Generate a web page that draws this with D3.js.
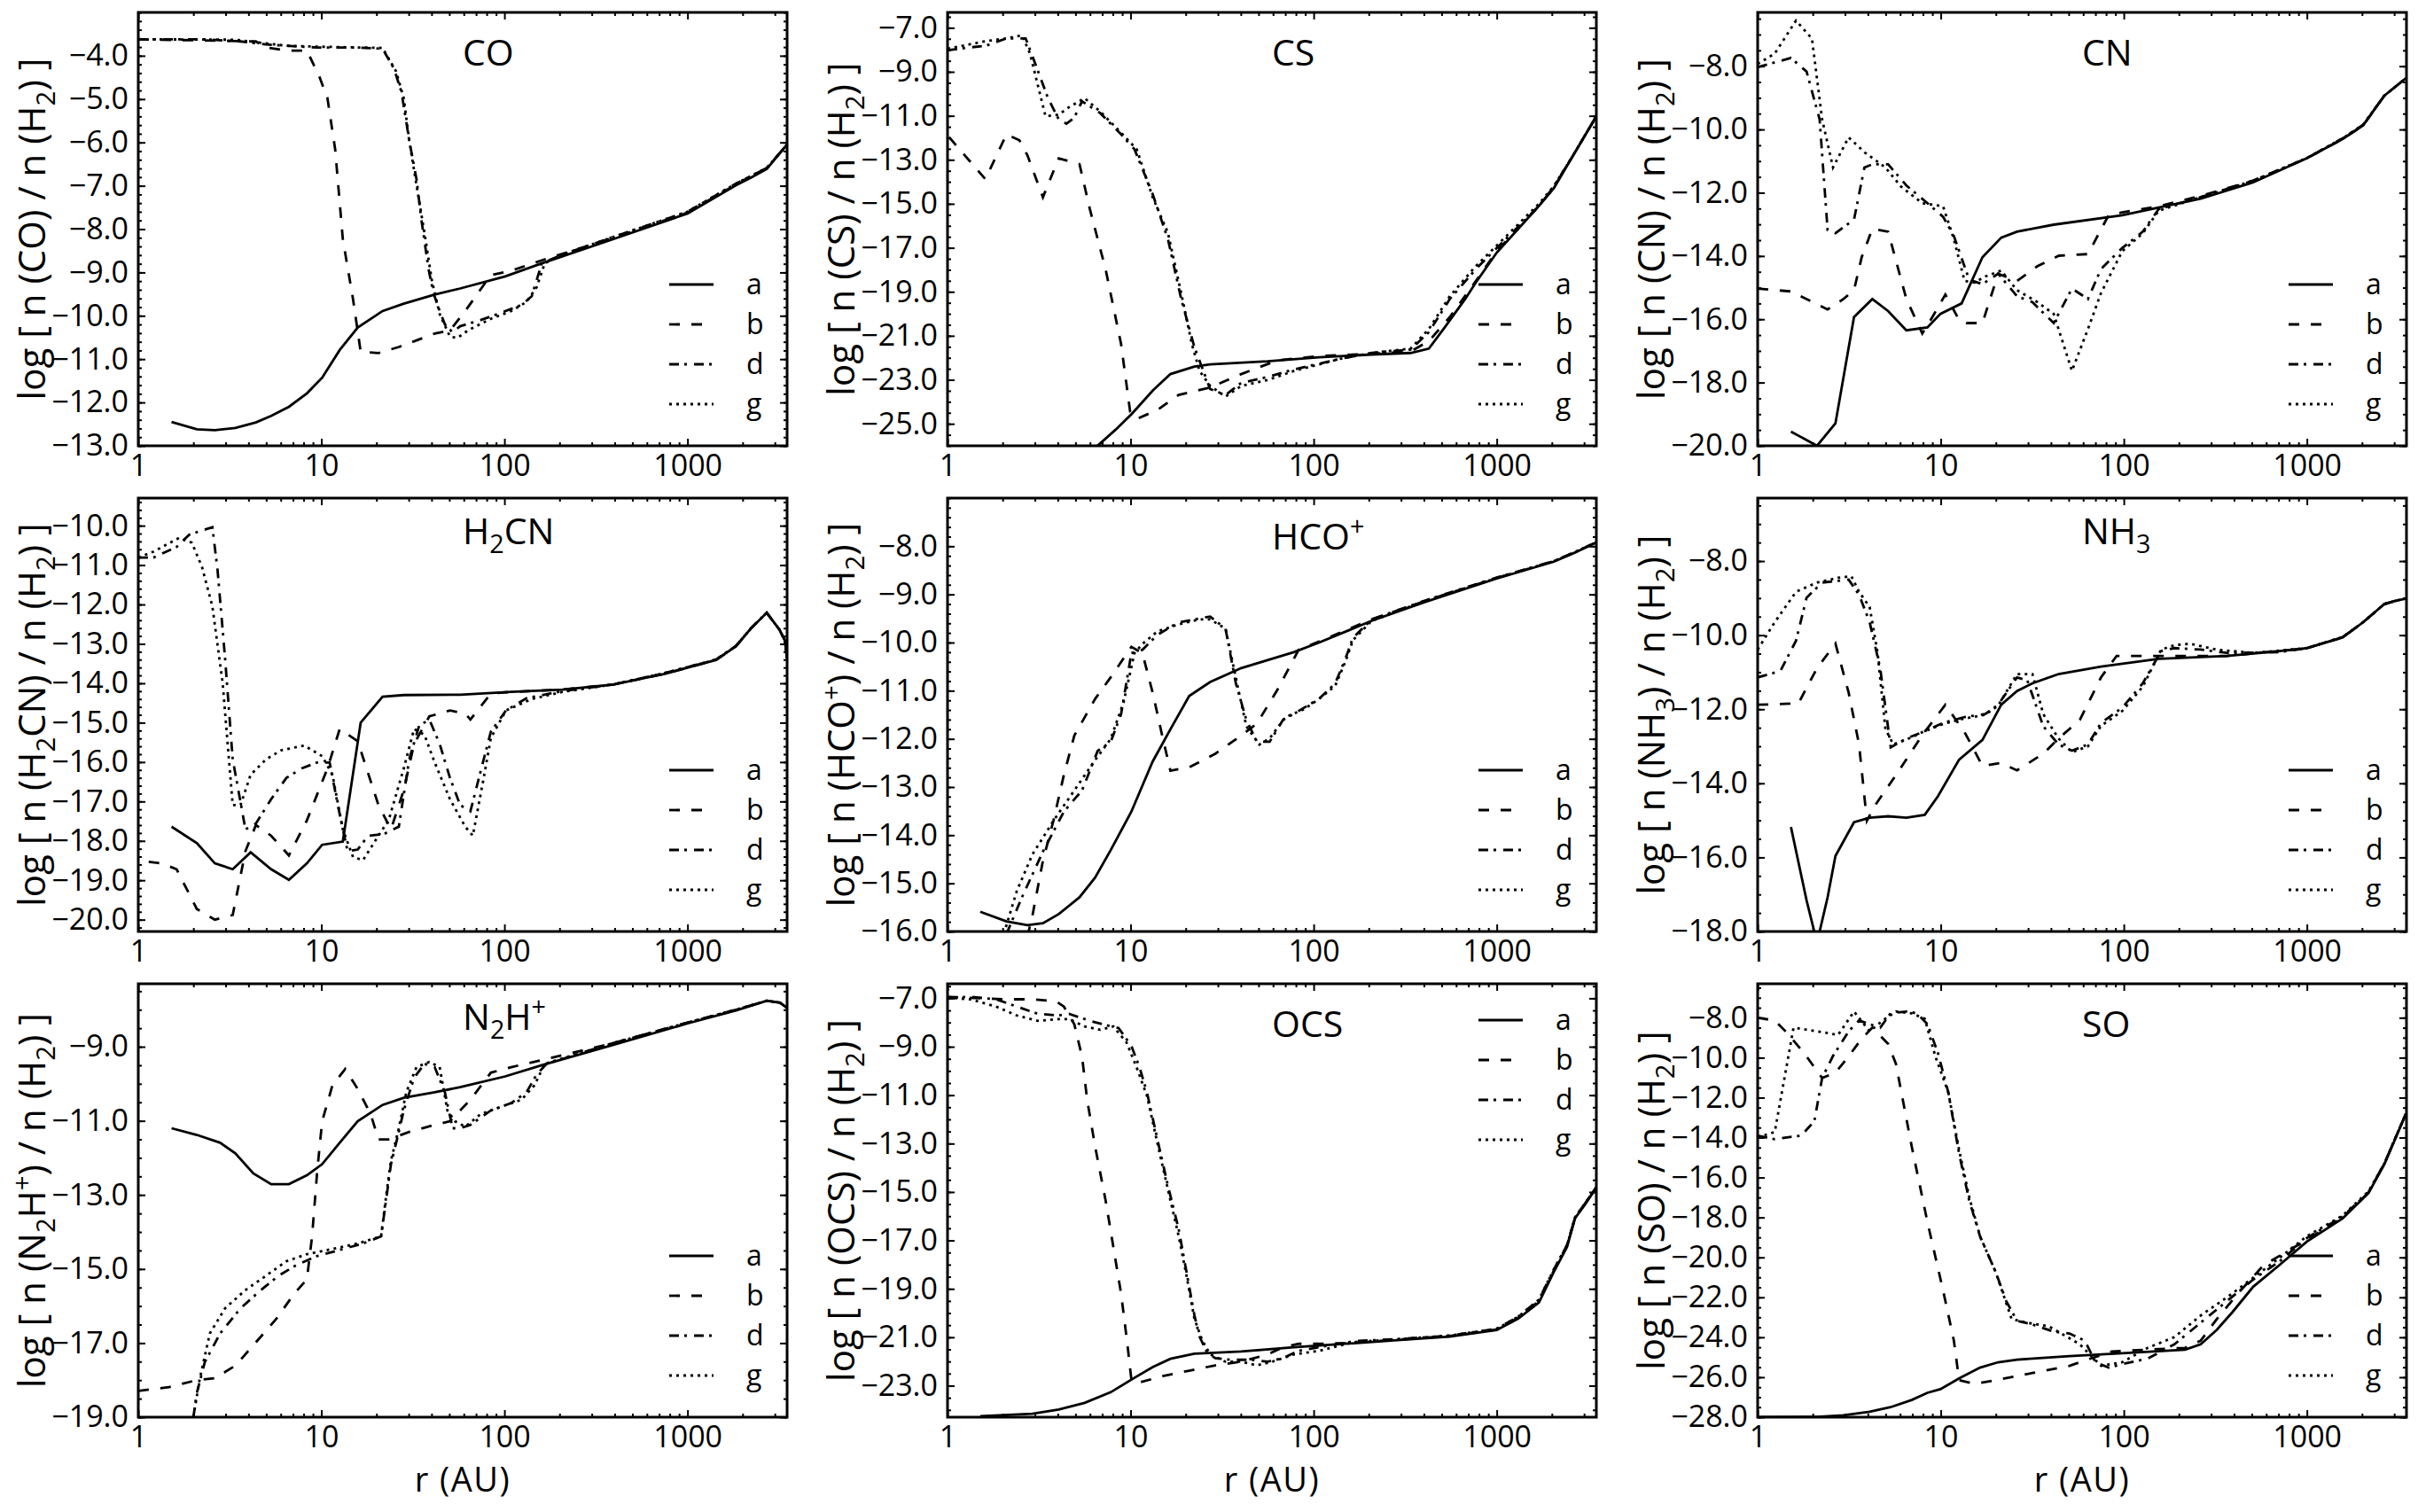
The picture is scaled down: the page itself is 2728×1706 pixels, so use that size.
<!DOCTYPE html>
<html>
<head>
<meta charset="utf-8">
<script src="https://cdn.jsdelivr.net/npm/d3@7"></script>
<style>
body { margin: 0; background: #fff; }
svg { font-family: "Open Sans", "Noto Sans", sans-serif; }
text { white-space: pre; }
</style>
</head>
<body>
<svg id="chart" width="2728" height="1706"></svg>
<script>
// radius (AU) vs log abundance
var coA = [[1.52,-12.45],[2.09,-12.62],[2.62,-12.64],[3.39,-12.59],[4.39,-12.46],[5.32,-12.31],[6.65,-12.10],[8.34,-11.79],[10.1,-11.43],[12.6,-10.79],[15.8,-10.27],[21.6,-9.89],[28.2,-9.72],[41.6,-9.51],[57.3,-9.37],[101,-9.09],[160,-8.79],[394,-8.23],[1000,-7.64],[1840,-6.99],[2230,-6.81],[2710,-6.61],[3500,-6.05]];
var coB = [[1,-3.62],[4.39,-3.67],[4.99,-3.81],[6.45,-3.88],[8.34,-3.88],[9.79,-4.50],[10.8,-4.98],[11.9,-6.16],[13.1,-8.23],[14.9,-9.62],[16.4,-10.83],[20.5,-10.86],[26.5,-10.72],[41.6,-10.41],[50.4,-10.34],[61.1,-9.89],[84.3,-9.06],[109,-8.96],[160,-8.72],[394,-8.20],[1000,-7.62],[1840,-6.97],[2710,-6.59],[3500,-6.05]];
var coD = [[1,-3.62],[2.31,-3.62],[3.62,-3.67],[4.99,-3.74],[6.45,-3.77],[9.49,-3.81],[15.8,-3.81],[21.6,-3.84],[24.9,-4.29],[27.4,-4.84],[30.2,-5.95],[33.1,-6.85],[35.3,-7.82],[38.5,-8.92],[41.0,-9.48],[43.7,-9.82],[47.3,-10.20],[52.1,-10.38],[57.3,-10.24],[74.1,-10.10],[95.9,-9.93],[124,-9.75],[141,-9.55],[160,-8.79],[207,-8.59],[394,-8.18],[1000,-7.60],[1840,-6.95],[2710,-6.59],[3500,-6.05]];
var coG = [[1,-3.62],[3.39,-3.63],[6.45,-3.77],[9.49,-3.79],[21.6,-3.82],[25.6,-4.36],[28.2,-4.98],[30.2,-5.95],[33.1,-6.99],[36.6,-8.09],[40.2,-9.20],[44.3,-9.96],[50.4,-10.48],[55.5,-10.51],[63.1,-10.34],[84.3,-10.07],[109,-9.89],[132,-9.68],[150,-9.34],[166,-8.79],[207,-8.59],[394,-8.18],[1000,-7.60],[1840,-6.95],[2710,-6.59],[3500,-6.05]];

var csA = [[5.6,-26.96],[6.6,-26.0],[8.3,-25.26],[10.1,-24.57],[13.2,-23.49],[16.5,-22.74],[22.3,-22.40],[27.2,-22.30],[56,-22.16],[107,-21.98],[207,-21.85],[339,-21.78],[426,-21.58],[520,-20.62],[672,-19.33],[769,-18.58],[1000,-17.22],[1700,-15.1],[2050,-14.29],[2680,-12.65],[3500,-11.02]];
var csB = [[1.02,-11.97],[1.24,-12.79],[1.61,-13.88],[2.10,-11.84],[2.47,-12.11],[2.73,-12.79],[3.32,-14.70],[4.05,-12.93],[5.26,-13.20],[5.99,-15.24],[7.30,-17.97],[8.87,-21.37],[9.94,-24.44],[10.8,-24.78],[14.0,-24.37],[18.3,-23.69],[27.2,-23.35],[40.2,-22.74],[63.3,-22.12],[107,-21.92],[207,-21.82],[339,-21.71],[426,-21.24],[554,-20.15],[769,-18.51],[1000,-17.15],[1700,-15.1],[2050,-14.25],[2680,-12.65],[3500,-11.02]];
var csD = [[1,-8.02],[1.33,-7.89],[1.61,-7.82],[2.10,-7.48],[2.67,-7.48],[2.91,-8.29],[3.54,-10.20],[4.05,-11.16],[4.46,-11.36],[4.92,-11.09],[5.43,-10.34],[6.83,-10.88],[8.87,-11.84],[10.5,-12.52],[13.2,-14.56],[16.0,-16.61],[18.9,-19.33],[22.3,-21.51],[27.2,-23.42],[33,-23.69],[40.2,-23.14],[56,-22.87],[77.8,-22.53],[139,-22.05],[207,-21.78],[339,-21.62],[426,-20.83],[554,-19.33],[769,-17.97],[1000,-17.01],[1700,-15.1],[2050,-14.22],[2680,-12.65],[3500,-11.02]];
var csG = [[1,-7.95],[1.61,-7.61],[2.10,-7.48],[2.55,-7.34],[2.82,-8.16],[3.43,-11.02],[4.05,-10.95],[4.61,-10.61],[5.61,-10.20],[6.83,-10.81],[8.87,-11.77],[10.8,-12.52],[13.2,-14.70],[16.0,-16.33],[18.9,-19.06],[21.6,-21.37],[23.8,-22.60],[27.2,-23.28],[33,-23.76],[40.2,-23.28],[56,-23.01],[77.8,-22.60],[139,-22.05],[207,-21.78],[339,-21.58],[426,-20.69],[554,-19.20],[769,-17.83],[1000,-16.9],[1700,-15.0],[2050,-14.2],[2680,-12.65],[3500,-11.02]];

var cnA = [[1.52,-19.55],[2.11,-20.0],[2.66,-19.29],[3.36,-15.93],[4.23,-15.36],[5.16,-15.74],[6.49,-16.35],[8.46,-16.26],[9.96,-15.83],[13.0,-15.50],[16.9,-14.04],[21.4,-13.42],[26.1,-13.23],[41.4,-13.01],[98,-12.71],[263,-12.19],[509,-11.67],[1000,-10.91],[1570,-10.30],[2030,-9.87],[2650,-8.93],[3060,-8.64],[3470,-8.38]];
var cnB = [[1,-15.03],[1.52,-15.12],[2.41,-15.69],[2.94,-15.36],[3.36,-15.08],[3.70,-14.04],[4.23,-13.14],[5.16,-13.23],[6.49,-15.36],[7.93,-16.45],[9.0,-15.93],[10.6,-15.22],[12.6,-16.02],[13.8,-16.12],[16.9,-16.12],[20.6,-14.56],[26.1,-14.79],[33.8,-14.32],[44.2,-13.99],[63.7,-13.94],[82.6,-12.71],[98,-12.62],[155,-12.43],[263,-12.10],[509,-11.62],[1000,-10.91],[1570,-10.30],[2030,-9.87],[2650,-8.93],[3060,-8.64],[3470,-8.38]];
var cnD = [[1,-8.03],[1.52,-7.74],[1.85,-8.17],[2.18,-9.68],[2.41,-13.18],[2.66,-13.28],[3.36,-12.85],[3.83,-11.20],[4.23,-11.10],[5.16,-11.10],[6.49,-11.77],[8.46,-12.33],[10.3,-12.76],[11.8,-13.37],[14.3,-14.75],[16.9,-14.89],[20.6,-14.56],[26.1,-15.27],[31.7,-15.46],[41.4,-16.12],[52.1,-15.03],[63.7,-15.36],[75.1,-14.41],[98,-13.75],[127,-13.23],[155,-12.52],[263,-12.14],[509,-11.62],[1000,-10.91],[1570,-10.28],[2030,-9.85],[2650,-8.93],[3060,-8.64],[3470,-8.38]];
var cnG = [[1,-7.93],[1.24,-7.60],[1.62,-6.56],[1.98,-7.13],[2.25,-9.68],[2.58,-11.20],[3.14,-10.25],[3.83,-10.72],[4.98,-11.20],[6.08,-11.81],[7.93,-12.33],[10.3,-12.43],[11.8,-13.47],[13.5,-14.79],[15.3,-14.84],[17.5,-14.65],[21.4,-14.46],[26.1,-15.08],[33.8,-15.46],[41.4,-15.83],[52.1,-17.63],[63.7,-16.31],[75.1,-15.17],[98,-13.85],[127,-13.28],[155,-12.57],[263,-12.14],[509,-11.62],[1000,-10.90],[1570,-10.28],[2030,-9.85],[2650,-8.93],[3060,-8.64],[3470,-8.38]];

var hcnA = [[1.52,-17.64],[2.09,-18.06],[2.62,-18.57],[3.28,-18.72],[4.11,-18.29],[5.32,-18.72],[6.65,-18.99],[8.34,-18.57],[10.1,-18.10],[13.1,-18.02],[16.4,-15.0],[21.6,-14.34],[28.2,-14.30],[57.3,-14.29],[109,-14.22],[207,-14.16],[394,-14.03],[751,-13.76],[1430,-13.41],[1840,-13.06],[2230,-12.60],[2710,-12.21],[3180,-12.64],[3400,-12.91],[3500,-13.37]];
var hcnB = [[1.14,-18.53],[1.34,-18.57],[1.62,-18.72],[2.09,-19.73],[2.62,-20.0],[3.28,-19.88],[3.85,-18.26],[4.39,-17.60],[5.32,-17.87],[6.65,-18.37],[8.34,-17.48],[10.8,-16.16],[12.6,-15.16],[15.8,-15.47],[20.5,-17.09],[24.0,-17.71],[28.2,-16.71],[32.1,-15.54],[38.9,-14.84],[50.4,-14.69],[61.1,-14.77],[65.2,-14.92],[84.3,-14.26],[109,-14.22],[207,-14.16],[394,-14.03],[751,-13.76],[1430,-13.41],[1840,-13.06],[2230,-12.60],[2710,-12.21],[3180,-12.64],[3400,-12.91],[3500,-13.37]];
var hcnD = [[1,-10.81],[1.21,-10.81],[1.62,-10.54],[1.90,-10.23],[2.23,-10.12],[2.54,-10.04],[2.71,-11.12],[2.98,-13.37],[3.28,-15.93],[3.62,-17.02],[3.85,-17.71],[4.39,-17.56],[5.32,-16.94],[6.45,-16.40],[7.81,-16.16],[9.49,-16.01],[11.1,-16.01],[12.3,-17.09],[13.9,-18.26],[15.8,-18.22],[18.0,-17.87],[21.9,-17.83],[26.5,-17.64],[30.2,-15.93],[34.2,-15.08],[38.9,-14.92],[44.3,-15.54],[50.4,-16.40],[57.3,-17.09],[65.2,-17.25],[74.1,-16.24],[84.3,-15.23],[102,-14.69],[132,-14.38],[207,-14.20],[394,-14.03],[751,-13.74],[1430,-13.40],[1840,-13.05],[2230,-12.60],[2710,-12.21],[3180,-12.64],[3400,-12.91],[3500,-13.37]];
var hcnG = [[1,-10.81],[1.21,-10.66],[1.67,-10.31],[1.96,-10.43],[2.23,-11.05],[2.54,-12.05],[2.89,-13.99],[3.28,-17.09],[3.62,-17.09],[4.11,-16.32],[4.99,-15.93],[6.04,-15.70],[8.06,-15.58],[10.1,-15.85],[11.5,-16.32],[13.1,-17.71],[14.9,-18.41],[16.9,-18.49],[20.5,-17.87],[23.3,-17.48],[28.2,-16.16],[32.1,-15.16],[36.6,-15.31],[41.6,-16.01],[50.4,-16.94],[61.1,-17.64],[67.2,-17.87],[76.6,-16.47],[84.3,-15.39],[102,-14.69],[141,-14.40],[207,-14.22],[394,-14.03],[751,-13.74],[1430,-13.40],[1840,-13.05],[2230,-12.60],[2710,-12.21],[3180,-12.64],[3400,-12.91],[3500,-13.37]];

var hcoA = [[1.51,-15.59],[2.10,-15.79],[2.73,-15.87],[3.32,-15.83],[4.05,-15.64],[5.26,-15.29],[6.40,-14.88],[7.79,-14.31],[10.1,-13.51],[13.2,-12.47],[16.5,-11.80],[20.9,-11.11],[27.2,-10.82],[40.2,-10.53],[77.8,-10.20],[107,-10.0],[207,-9.55],[397,-9.17],[1000,-8.67],[2050,-8.32],[2680,-8.13],[3500,-7.92]];
var hcoB = [[2.73,-16.11],[2.91,-15.67],[3.32,-14.53],[3.79,-13.70],[4.32,-12.75],[4.93,-11.93],[6.40,-11.17],[7.79,-10.72],[10.1,-10.09],[11.6,-10.22],[13.2,-11.04],[15.0,-11.99],[16.5,-12.66],[20.9,-12.59],[29,-12.31],[40.2,-11.93],[49,-11.68],[63.4,-10.98],[82.8,-10.15],[107,-9.98],[207,-9.52],[397,-9.15],[1000,-8.66],[2050,-8.31],[2680,-8.12],[3500,-7.92]];
var hcoD = [[2.10,-16.05],[2.55,-15.29],[3.32,-14.34],[4.32,-13.51],[5.43,-13.07],[6.61,-12.25],[7.79,-12.06],[8.87,-11.49],[10.1,-10.22],[11.6,-10.15],[14.0,-9.84],[18.3,-9.58],[22.3,-9.52],[27.2,-9.46],[33,-9.71],[37.6,-10.85],[42.9,-11.61],[49,-12.06],[57.5,-12.06],[67.9,-11.61],[82.8,-11.42],[107,-11.17],[131,-10.85],[149,-10.34],[164,-9.90],[207,-9.52],[397,-9.14],[1000,-8.65],[2050,-8.31],[2680,-8.12],[3500,-7.92]];
var hcoG = [[2.03,-16.05],[2.39,-15.16],[2.91,-14.40],[3.79,-13.70],[4.93,-13.07],[6.40,-12.44],[7.79,-12.0],[9.17,-11.23],[10.5,-10.22],[11.6,-10.03],[14.0,-9.77],[18.3,-9.62],[23.8,-9.52],[27.2,-9.52],[33,-9.71],[38.8,-10.98],[42.9,-11.74],[50.5,-12.12],[57.5,-11.99],[70.0,-11.55],[88,-11.39],[107,-11.17],[131,-10.9],[149,-10.4],[164,-9.95],[207,-9.55],[397,-9.15],[1000,-8.66],[2050,-8.31],[2680,-8.12],[3500,-7.92]];

var nh3A = [[1.52,-15.18],[1.85,-17.16],[2.11,-18.3],[2.41,-17.08],[2.66,-15.96],[3.36,-15.05],[4.09,-14.93],[5.16,-14.89],[6.49,-14.93],[8.18,-14.85],[9.65,-14.35],[12.6,-13.36],[16.9,-12.83],[21.4,-11.88],[26.1,-11.51],[31.7,-11.30],[44,-11.05],[75.1,-10.85],[155,-10.64],[366,-10.56],[707,-10.43],[1000,-10.35],[1570,-10.06],[2030,-9.65],[2650,-9.16],[3060,-9.07],[3470,-9.01]];
var nh3B = [[1,-11.88],[1.67,-11.84],[2.11,-10.89],[2.66,-10.23],[3.14,-11.55],[3.58,-12.95],[3.95,-15.01],[4.37,-14.60],[5.69,-13.78],[7.93,-12.70],[10.6,-11.88],[13.5,-12.62],[16.9,-13.53],[21.4,-13.45],[26.1,-13.65],[36.3,-13.20],[44,-12.79],[57.5,-12.29],[75.1,-11.14],[91.4,-10.56],[135,-10.56],[189,-10.56],[366,-10.56],[707,-10.43],[1000,-10.35],[1570,-10.06],[2030,-9.65],[2650,-9.16],[3060,-9.07],[3470,-9.01]];
var nh3D = [[1,-11.14],[1.33,-10.97],[1.62,-10.15],[1.85,-8.99],[2.25,-8.58],[3.14,-8.50],[3.58,-8.91],[4.09,-9.65],[4.67,-10.89],[5.33,-13.03],[6.49,-12.79],[7.93,-12.62],[10.3,-12.37],[13.5,-12.21],[17.5,-12.13],[20.6,-11.88],[26.1,-11.14],[29.7,-11.22],[36.3,-12.46],[44,-12.95],[52.1,-13.12],[63.7,-12.95],[75.1,-12.37],[98,-11.96],[127,-11.30],[160,-10.43],[189,-10.35],[263,-10.39],[366,-10.48],[707,-10.46],[1000,-10.35],[1570,-10.05],[2030,-9.65],[2650,-9.16],[3060,-9.07],[3470,-9.01]];
var nh3G = [[1,-10.39],[1.24,-9.65],[1.62,-8.83],[2.11,-8.58],[2.75,-8.45],[3.25,-8.41],[3.58,-8.83],[4.09,-9.24],[4.52,-10.48],[4.99,-12.54],[5.51,-12.95],[6.49,-12.82],[7.93,-12.62],[10.3,-12.40],[13.5,-12.25],[17.5,-12.15],[20.6,-11.9],[26.1,-11.05],[31.7,-11.05],[36.3,-12.13],[44,-12.79],[52.1,-13.16],[63.7,-13.0],[75.1,-12.45],[98,-12.05],[127,-11.39],[160,-10.39],[189,-10.27],[230,-10.23],[320,-10.39],[509,-10.48],[1000,-10.35],[1570,-10.05],[2030,-9.65],[2650,-9.16],[3060,-9.07],[3470,-9.01]];

var n2hA = [[1.52,-11.20],[2.09,-11.38],[2.80,-11.59],[3.39,-11.88],[4.25,-12.42],[5.32,-12.71],[6.65,-12.71],[8.34,-12.47],[10.1,-12.17],[12.6,-11.59],[15.8,-11.01],[21.6,-10.57],[28.2,-10.38],[41.6,-10.23],[57.3,-10.09],[101,-9.80],[160,-9.50],[394,-8.95],[1000,-8.37],[1840,-8.02],[2710,-7.76],[3200,-7.81],[3500,-7.95]];
var n2hB = [[1,-18.29],[1.47,-18.19],[2.09,-18.0],[2.62,-17.95],[3.39,-17.61],[4.39,-16.98],[5.67,-16.35],[7.10,-15.67],[8.34,-15.28],[8.9,-14.12],[9.49,-12.37],[10.1,-11.01],[11.5,-10.04],[13.5,-9.60],[15.8,-10.14],[18.6,-10.82],[20.5,-11.50],[23.3,-11.50],[30.2,-11.30],[41.6,-11.11],[50.4,-11.01],[65.2,-10.43],[84.3,-9.70],[109,-9.55],[160,-9.36],[394,-8.90],[1000,-8.35],[1840,-8.0],[2710,-7.76],[3200,-7.81],[3500,-7.95]];
var n2hD = [[2.0,-19.0],[2.09,-18.34],[2.31,-17.51],[2.80,-16.74],[3.62,-16.06],[4.67,-15.57],[5.85,-15.18],[7.33,-14.89],[9.49,-14.65],[12.3,-14.50],[16.9,-14.31],[21.2,-14.12],[22.7,-13.05],[24.0,-12.17],[25.9,-11.50],[28.2,-10.72],[32.1,-9.84],[36.6,-9.46],[41.6,-9.55],[47.3,-10.23],[52.1,-11.20],[57.3,-11.20],[65.2,-11.11],[84.3,-10.72],[109,-10.52],[132,-10.23],[150,-9.75],[170,-9.46],[394,-8.90],[1000,-8.35],[1840,-8.0],[2710,-7.76],[3200,-7.81],[3500,-7.95]];
var n2hG = [[2.0,-19.0],[2.16,-18.0],[2.46,-16.74],[2.98,-16.06],[3.85,-15.57],[4.99,-15.18],[6.45,-14.79],[8.34,-14.60],[11.5,-14.46],[15.8,-14.31],[21.2,-14.12],[22.7,-12.95],[24.0,-12.08],[26.5,-11.20],[29.1,-10.23],[33.1,-9.55],[38.9,-9.41],[44.3,-9.55],[48.8,-10.72],[53.7,-11.01],[61.1,-11.16],[74.1,-10.82],[95.9,-10.62],[124,-10.43],[146,-10.04],[166,-9.46],[394,-8.90],[1000,-8.35],[1840,-8.0],[2710,-7.76],[3200,-7.81],[3500,-7.95]];

var ocsA = [[1.51,-24.26],[2.91,-24.16],[4.05,-23.98],[5.61,-23.71],[7.79,-23.27],[10.1,-22.75],[13.2,-22.23],[16.5,-21.89],[22.3,-21.68],[40.2,-21.59],[77.8,-21.41],[149,-21.27],[286,-21.12],[554,-20.97],[1000,-20.70],[1310,-20.23],[1700,-19.56],[2050,-18.30],[2420,-17.27],[2680,-16.08],[3050,-15.49],[3500,-14.82]];
var ocsB = [[1,-6.94],[1.51,-7.0],[2.10,-7.04],[2.91,-7.04],[3.91,-7.12],[4.32,-7.34],[4.93,-8.08],[5.43,-9.41],[5.79,-11.19],[6.40,-13.12],[7.30,-15.34],[8.05,-17.27],[8.87,-19.19],[9.6,-21.27],[10.1,-22.75],[10.8,-22.90],[15.0,-22.60],[20.9,-22.38],[29,-22.16],[40.2,-22.01],[56,-21.71],[68,-21.41],[82.8,-21.27],[107,-21.27],[149,-21.24],[286,-21.10],[554,-20.95],[1000,-20.68],[1310,-20.2],[1700,-19.5],[2050,-18.25],[2420,-17.2],[2680,-16.05],[3050,-15.45],[3500,-14.8]];
var ocsD = [[1,-6.97],[1.33,-6.94],[1.84,-7.04],[2.39,-7.34],[3.11,-7.64],[4.05,-7.71],[4.61,-7.64],[6.0,-7.93],[7.79,-8.16],[8.6,-8.23],[10.1,-8.97],[11.2,-9.86],[12.3,-10.90],[14.0,-12.82],[16.0,-14.75],[18.3,-16.53],[20.2,-18.30],[22.3,-20.08],[23.8,-20.97],[26.2,-21.64],[29,-21.86],[35.1,-21.93],[45.6,-21.93],[56,-22.01],[68,-21.86],[82.8,-21.56],[107,-21.41],[139,-21.27],[170,-21.15],[286,-21.08],[554,-20.93],[1000,-20.65],[1310,-20.15],[1700,-19.45],[2050,-18.2],[2420,-17.2],[2680,-16.05],[3050,-15.45],[3500,-14.8]];
var ocsG = [[1,-6.97],[1.33,-7.04],[1.84,-7.34],[2.39,-7.71],[3.11,-7.93],[4.05,-7.86],[4.61,-7.86],[5.61,-8.16],[6.83,-8.30],[8.05,-8.16],[9.5,-8.82],[10.8,-9.86],[12.3,-11.04],[14.0,-12.97],[16.0,-14.90],[18.3,-16.82],[20.2,-18.45],[22.3,-20.23],[24.6,-21.12],[27.2,-21.71],[33,-22.01],[40.2,-22.01],[49,-22.16],[59.5,-22.01],[77.8,-21.71],[107,-21.56],[139,-21.34],[170,-21.19],[286,-21.08],[554,-20.93],[1000,-20.65],[1310,-20.15],[1700,-19.45],[2050,-18.2],[2420,-17.2],[2680,-16.05],[3050,-15.45],[3500,-14.8]];

var soA = [[1,-28.0],[2.11,-27.98],[2.94,-27.91],[4.09,-27.73],[5.32,-27.50],[6.94,-27.14],[8.46,-26.78],[9.96,-26.60],[12.6,-26.06],[16.4,-25.52],[20.6,-25.25],[26.1,-25.12],[50.5,-24.94],[98,-24.80],[216,-24.62],[263,-24.35],[322,-23.63],[393,-22.73],[509,-21.47],[707,-20.39],[1000,-19.21],[1570,-18.04],[2170,-16.78],[2650,-15.34],[3470,-12.82]];
var soB = [[1,-8.0],[1.24,-8.14],[1.42,-8.68],[1.79,-9.76],[2.25,-11.02],[2.66,-10.75],[3.14,-9.94],[3.70,-9.04],[4.23,-8.50],[5.16,-9.31],[5.69,-10.30],[6.94,-14.44],[8.46,-18.23],[10.3,-21.65],[11.8,-24.17],[12.6,-26.15],[15.3,-26.33],[20.0,-26.15],[31.7,-25.79],[50.5,-25.43],[65.6,-25.07],[86,-24.71],[135,-24.62],[216,-24.53],[263,-24.17],[322,-23.09],[418,-21.83],[580,-20.39],[1000,-19.12],[1570,-18.0],[2170,-16.75],[2650,-15.3],[3470,-12.82]];
var soD = [[1,-13.90],[1.24,-14.08],[1.73,-13.90],[2.04,-13.18],[2.25,-11.02],[2.57,-9.94],[3.14,-8.68],[3.58,-8.14],[4.09,-8.32],[4.67,-8.50],[5.32,-7.78],[6.49,-7.69],[7.41,-7.78],[8.46,-8.32],[9.65,-9.76],[11.0,-11.74],[12.6,-14.80],[14.3,-17.14],[16.4,-18.95],[20.0,-20.75],[22.8,-22.19],[26.1,-23.18],[31.7,-23.36],[41.4,-23.72],[50.5,-23.81],[61.3,-24.17],[70,-25.25],[82.6,-25.52],[98,-25.34],[135,-25.07],[189,-24.35],[263,-23.27],[366,-22.19],[509,-21.11],[707,-20.21],[1000,-19.03],[1570,-17.95],[2170,-16.75],[2650,-15.3],[3470,-12.82]];
var soG = [[1,-13.99],[1.24,-13.72],[1.57,-8.50],[2.11,-8.68],[2.75,-8.86],[3.36,-7.69],[4.09,-8.68],[4.82,-8.14],[5.69,-7.69],[6.94,-7.78],[8.18,-8.05],[9.35,-9.94],[11.0,-11.74],[12.6,-14.62],[14.3,-16.96],[16.4,-18.95],[20.0,-20.75],[24.4,-23.09],[29.7,-23.27],[38.9,-23.45],[47.4,-23.90],[57.5,-24.35],[65.6,-24.89],[75.1,-25.43],[98,-25.25],[135,-24.53],[189,-23.99],[263,-22.91],[366,-22.0],[509,-21.02],[707,-20.03],[1000,-18.94],[1570,-17.9],[2170,-16.7],[2650,-15.3],[3470,-12.82]];

// axis limits and tick labels
var species = ["CO", "CS", "CN", "H_2CN", "HCO^+", "NH_3", "N_2H^+", "OCS", "SO"];
var yLimits = [[-13, -3], [-26, -6.3], [-20, -6.3], [-20.3, -9.3], [-16, -7], [-18, -6.3], [-19, -7.3], [-24.3, -6.4], [-28, -6.3]];
var coTicks = [-13, -12, -11, -10, -9, -8, -7, -6, -5, -4];
var csTicks = [-25, -23, -21, -19, -17, -15, -13, -11, -9, -7];
var cnTicks = [-20, -18, -16, -14, -12, -10, -8];
var hcnTicks = [-20, -19, -18, -17, -16, -15, -14, -13, -12, -11, -10];
var hcoTicks = [-16, -15, -14, -13, -12, -11, -10, -9, -8];
var nh3Ticks = [-18, -16, -14, -12, -10, -8];
var n2hTicks = [-19, -17, -15, -13, -11, -9];
var ocsTicks = [-23, -21, -19, -17, -15, -13, -11, -9, -7];
var soTicks = [-28, -26, -24, -22, -20, -18, -16, -14, -12, -10, -8];
var xTicks = [1, 10, 100, 1000];
var models = ["a", "b", "d", "g"];

var allSeries = [
  [coA, coB, coD, coG], [csA, csB, csD, csG], [cnA, cnB, cnD, cnG],
  [hcnA, hcnB, hcnD, hcnG], [hcoA, hcoB, hcoD, hcoG], [nh3A, nh3B, nh3D, nh3G],
  [n2hA, n2hB, n2hD, n2hG], [ocsA, ocsB, ocsD, ocsG], [soA, soB, soD, soG]
];
var allTicks = [coTicks, csTicks, cnTicks, hcnTicks, hcoTicks, nh3Ticks, n2hTicks, ocsTicks, soTicks];

// layout
var svg = d3.select("#chart");
var colX = [156, 1069, 1983], rowY = [14, 562, 1110];
var w = 732, h = 489;
var dashes = [null, "12,13", "11,6,3,8", "3,5"];

var x = d3.scaleLog().domain([1, 3500]).range([0, w]);

var xMinor = [];
[1, 10, 100, 1000].forEach(function(dec) {
  for (var k = 2; k <= 9; k++) if (dec * k < 3500) xMinor.push(dec * k);
});

// text with _x subscripts and ^x superscripts
function richText(sel, str, size) {
  var shift = 0;
  str.match(/[_^].|[^_^]+/g).forEach(function(s) {
    var target = 0, t = s, fs = size;
    if (s[0] === "_") { target = 0.25 * size; t = s[1]; fs = 0.7 * size; }
    else if (s[0] === "^") { target = -0.38 * size; t = s[1]; fs = 0.7 * size; }
    sel.append("tspan").attr("dy", target - shift).attr("font-size", fs).text(t);
    shift = target;
  });
}

species.forEach(function(name, i) {
  var col = i % 3, row = Math.floor(i / 3);
  var g = svg.append("g").attr("transform", "translate(" + colX[col] + "," + rowY[row] + ")");
  var y = d3.scaleLinear().domain(yLimits[i]).range([h, 0]);
  var ticks = allTicks[i];
  var step = ticks[1] - ticks[0];
  var minorStep = step === 1 ? 0.2 : 0.5;
  var yMinor = [];
  for (var v = Math.ceil(yLimits[i][0] / minorStep) * minorStep; v <= yLimits[i][1] + 1e-9; v += minorStep) {
    yMinor.push(+v.toFixed(2));
  }

  g.append("clipPath").attr("id", "clip" + i)
    .append("rect").attr("width", w).attr("height", h);

  var line = d3.line().x(function(d) { return x(d[0]); }).y(function(d) { return y(d[1]); });

  var plot = g.append("g").attr("clip-path", "url(#clip" + i + ")");
  allSeries[i].forEach(function(s, k) {
    plot.append("path").datum(s)
      .attr("d", line)
      .attr("fill", "none")
      .attr("stroke", "#000")
      .attr("stroke-width", 2.8)
      .attr("stroke-dasharray", dashes[k]);
  });

  // ticks on all four sides, pointing in
  g.append("g").call(d3.axisLeft(y).tickValues(ticks).tickFormat(d3.format(".1f"))
      .tickSizeInner(-8).tickSizeOuter(0).tickPadding(11))
    .attr("font-size", 34).attr("font-family", null);
  g.append("g").call(d3.axisLeft(y).tickValues(yMinor).tickFormat("").tickSizeInner(-4).tickSizeOuter(0));
  g.append("g").attr("transform", "translate(" + w + ",0)")
    .call(d3.axisRight(y).tickValues(ticks).tickFormat("").tickSizeInner(-8).tickSizeOuter(0));
  g.append("g").attr("transform", "translate(" + w + ",0)")
    .call(d3.axisRight(y).tickValues(yMinor).tickFormat("").tickSizeInner(-4).tickSizeOuter(0));

  g.append("g").attr("transform", "translate(0," + h + ")")
    .call(d3.axisBottom(x).tickValues(xTicks).tickFormat(d3.format("d"))
      .tickSizeInner(-8).tickSizeOuter(0).tickPadding(10))
    .attr("font-size", 34).attr("font-family", null);
  g.append("g").attr("transform", "translate(0," + h + ")")
    .call(d3.axisBottom(x).tickValues(xMinor).tickFormat("").tickSizeInner(-4).tickSizeOuter(0));
  g.append("g").call(d3.axisTop(x).tickValues(xTicks).tickFormat("").tickSizeInner(-8).tickSizeOuter(0));
  g.append("g").call(d3.axisTop(x).tickValues(xMinor).tickFormat("").tickSizeInner(-4).tickSizeOuter(0));

  g.selectAll(".domain").remove();
  g.selectAll(".tick line").attr("stroke", "#000").attr("stroke-width", 2);
  g.selectAll(".tick text").attr("fill", "#000");

  g.append("rect").attr("width", w).attr("height", h)
    .attr("fill", "none").attr("stroke", "#000").attr("stroke-width", 3);

  // species name
  var hasSub = name.indexOf("_") >= 0, hasSup = name.indexOf("^") >= 0;
  var title = g.append("text")
    .attr("x", w * 0.5)
    .attr("y", hasSub ? 52 : (hasSup ? 58 : 60))
    .attr("font-size", 41);
  richText(title, name, 41);

  // y label
  var ylab = g.append("text")
    .attr("transform", "translate(-105," + (h / 2) + ") rotate(-90)")
    .attr("text-anchor", "middle")
    .attr("font-size", 42);
  richText(ylab, "log [ n (" + name + ") / n (H_2) ]", 42);

  // legend, no frame
  var atTop = name === "OCS";
  models.forEach(function(m, k) {
    var ly = atTop ? 41 + 45 * k : h - 47 - 45 * (3 - k);
    g.append("line")
      .attr("x1", w - 133).attr("x2", w - 83)
      .attr("y1", ly).attr("y2", ly)
      .attr("stroke", "#000").attr("stroke-width", 2.8)
      .attr("stroke-dasharray", dashes[k]);
    g.append("text")
      .attr("x", w - 46).attr("y", ly).attr("dy", "0.35em")
      .attr("font-size", 32)
      .text(m);
  });

  if (row === 2) {
    g.append("text")
      .attr("x", w / 2).attr("y", h + 84)
      .attr("text-anchor", "middle")
      .attr("font-size", 38)
      .attr("letter-spacing", 1.5)
      .text("r (AU)");
  }
});
</script>
</body>
</html>
